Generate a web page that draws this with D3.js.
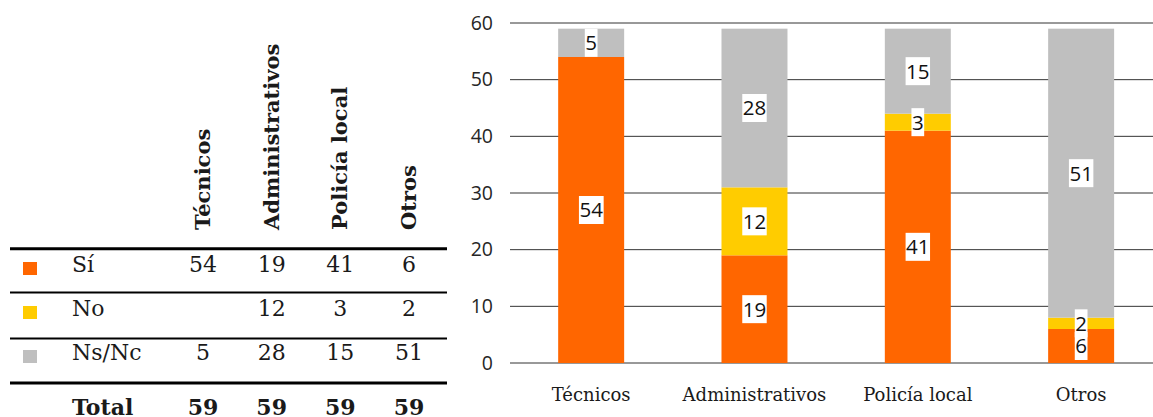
<!DOCTYPE html>
<html>
<head>
<meta charset="utf-8">
<script src="https://cdn.jsdelivr.net/npm/d3@7"></script>
<style>
  html, body { margin: 0; padding: 0; background: #fff; }
  svg { display: block; }
</style>
</head>
<body>
<svg id="chart" width="1153" height="417"></svg>
<script>
// Staff groups surveyed and answers per group
const categories = ["Técnicos", "Administrativos", "Policía local", "Otros"];
const answers = ["Sí", "No", "Ns/Nc"];
const si = [54, 19, 41, 6];
const no = [0, 12, 3, 2];
const nsnc = [5, 28, 15, 51];
const totals = [59, 59, 59, 59];
const yTicks = [0, 10, 20, 30, 40, 50, 60];
const colors = ["#FF6600", "#FFCC00", "#BFBFBF"];

const seriesValues = [si, no, nsnc];
const rows = categories.map((c, i) => ({ cat: c, "Sí": si[i], "No": no[i], "Ns/Nc": nsnc[i] }));

const svg = d3.select("#chart");
const serif = "'DejaVu Serif', serif";
const sans = "'Open Sans', sans-serif";
const ink = "#1a1a1a";

// ---------- Data table (left) ----------
const table = svg.append("g");
const colX = d3.scalePoint().domain(categories).range([203, 409]);

// rotated column headers
table.selectAll("text.head")
  .data(categories)
  .join("text")
  .attr("class", "head")
  .attr("transform", d => `translate(${colX(d) + 7},230) rotate(-90)`)
  .attr("font-family", serif)
  .attr("font-weight", "bold")
  .attr("font-size", 21)
  .attr("fill", ink)
  .text(d => d);

// horizontal rules
const rules = [{ y: 248.7, w: 3 }, { y: 292.5, w: 2 }, { y: 338.5, w: 2 }, { y: 383, w: 3 }];
table.selectAll("line.rule")
  .data(rules)
  .join("line")
  .attr("x1", 10).attr("x2", 447)
  .attr("y1", d => d.y).attr("y2", d => d.y)
  .attr("stroke", "#000")
  .attr("stroke-width", d => d.w);

const rowY = d3.scalePoint().domain(answers).range([272, 360]);

// legend swatches
table.selectAll("rect.swatch")
  .data(answers)
  .join("rect")
  .attr("x", 23)
  .attr("y", d => rowY(d) - 10)
  .attr("width", 14)
  .attr("height", 13)
  .attr("fill", (d, i) => colors[i]);

// row labels
table.selectAll("text.rowlab")
  .data(answers)
  .join("text")
  .attr("x", 72)
  .attr("y", d => rowY(d))
  .attr("font-family", serif)
  .attr("font-size", 22)
  .attr("fill", ink)
  .text(d => d);

// cell values
answers.forEach((a, ai) => {
  table.selectAll(null)
    .data(categories.map((c, i) => ({ c, v: seriesValues[ai][i] })).filter(d => d.v > 0))
    .join("text")
    .attr("x", d => colX(d.c))
    .attr("y", rowY(a))
    .attr("text-anchor", "middle")
    .attr("font-family", serif)
    .attr("font-size", 22)
    .attr("fill", ink)
    .text(d => d.v);
});

// totals row
table.append("text")
  .attr("x", 72).attr("y", 415)
  .attr("font-family", serif).attr("font-weight", "bold")
  .attr("font-size", 22).attr("fill", ink)
  .text("Total");
table.selectAll("text.total")
  .data(categories.map((c, i) => ({ c, v: totals[i] })))
  .join("text")
  .attr("class", "total")
  .attr("x", d => colX(d.c))
  .attr("y", 415)
  .attr("text-anchor", "middle")
  .attr("font-family", serif).attr("font-weight", "bold")
  .attr("font-size", 22).attr("fill", ink)
  .text(d => d.v);

// ---------- Stacked bar chart (right) ----------
const x = d3.scaleBand().domain(categories).range([509.5, 1162.8]).paddingInner(0.596).paddingOuter(0.298);
const y = d3.scaleLinear().domain([0, 60]).range([363, 23]);

const plot = svg.append("g");

// gridlines
plot.selectAll("line.grid")
  .data(yTicks)
  .join("line")
  .attr("x1", 510).attr("x2", 1153)
  .attr("y1", d => y(d)).attr("y2", d => y(d))
  .attr("stroke", "#333")
  .attr("stroke-width", 1);

// y-axis tick labels
const yAxis = d3.axisLeft(y).tickValues(yTicks).tickSize(0).tickPadding(0);
const yg = plot.append("g").attr("transform", "translate(493,0)").call(yAxis);
yg.select(".domain").remove();
yg.selectAll("text")
  .attr("font-family", sans)
  .attr("font-size", 19.5)
  .attr("fill", "#262626");

// x-axis category labels
const xAxis = d3.axisBottom(x).tickSize(0).tickPadding(0);
const xg = plot.append("g").attr("transform", "translate(0,388)").call(xAxis);
xg.select(".domain").remove();
xg.selectAll("text")
  .attr("font-family", serif)
  .attr("font-size", 18)
  .attr("fill", ink)
  .attr("dy", "0.71em");

const stack = d3.stack().keys(answers);
const layers = stack(rows);

plot.selectAll("g.layer")
  .data(layers)
  .join("g")
  .attr("class", "layer")
  .attr("fill", (d, i) => colors[i])
  .selectAll("rect")
  .data(d => d)
  .join("rect")
  .attr("x", d => x(d.data.cat))
  .attr("width", x.bandwidth())
  .attr("y", d => y(d[1]))
  .attr("height", d => y(d[0]) - y(d[1]));

// value labels with white boxes
const labels = [];
layers.forEach(layer => {
  layer.forEach(d => {
    const v = d[1] - d[0];
    if (v > 0) labels.push({ cat: d.data.cat, v, mid: (d[0] + d[1]) / 2 });
  });
});

const lab = plot.selectAll("g.vlab")
  .data(labels)
  .join("g")
  .attr("class", "vlab")
  .attr("transform", d => `translate(${x(d.cat) + x.bandwidth() / 2},${y(d.mid)})`);

lab.append("text")
  .attr("text-anchor", "middle")
  .attr("dy", "0.36em")
  .attr("font-family", sans)
  .attr("font-size", 20.5)
  .attr("fill", "#111")
  .text(d => d.v);

lab.each(function () {
  const g = d3.select(this);
  const bb = g.select("text").node().getBBox();
  g.insert("rect", "text")
    .attr("x", bb.x - 0.5)
    .attr("y", -14)
    .attr("width", bb.width + 1)
    .attr("height", 28)
    .attr("fill", "#fff");
});
</script>
</body>
</html>
